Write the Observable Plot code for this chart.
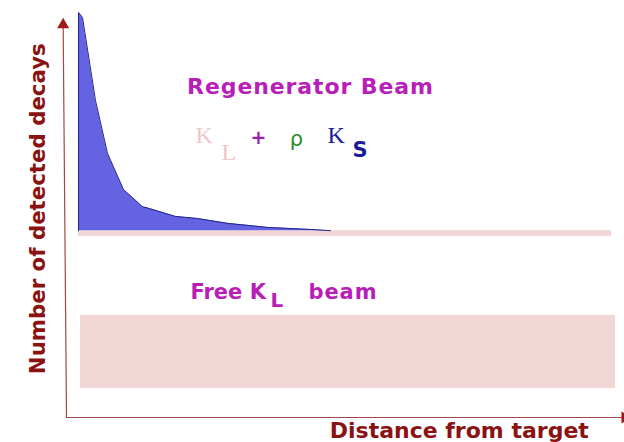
<!DOCTYPE html>
<html><head><meta charset="utf-8">
<script src="https://cdn.jsdelivr.net/npm/d3@7"></script>
<script src="https://cdn.jsdelivr.net/npm/@observablehq/plot@0.6"></script>
<style>body{margin:0;background:#fff}</style>
</head><body><div id="chart"></div>
<script>
// Regenerator beam: detected K_S decays vs distance (arbitrary units)
const distance = [2.17, 2.89, 5.23, 7.40, 10.29, 13.72, 14.8, 19.68, 23.6, 29.06, 36.3, 44.0, 47.65];
const decays   = [99.5, 98.3, 77.9, 64.9, 56.0, 51.8, 51.4, 49.4, 48.9, 47.7, 46.7, 46.2, 45.9];
const regenBaseline = 45.9;
// K_L background bands
const bandX1 = [2.17, 2.53];
const bandX2 = [98.4, 99.1];
const bandY1 = [44.5, 7.1];
const bandY2 = [45.9, 25.1];

const regen = distance.map((d, i) => ({d, n: decays[i]}));
const edge = [{d: distance[0], n: regenBaseline}, ...regen];
const bands = bandX1.map((x1, i) => ({x1, x2: bandX2[i], y1: bandY1[i], y2: bandY2[i]}));
const axisPts = [{d: -0.6, n: 96}, {d: 0, n: 0}, {d: 100.5, n: 0}];
const heads = [{d: -0.6, n: 96.5, r: 0}, {d: 100.8, n: 0, r: 90}];

const dark = "#8b1212", mag = "#b81eb8", F = "DejaVu Sans";
const chart = Plot.plot({
  width: 624, height: 442,
  marginLeft: 66, marginRight: 4, marginTop: 10, marginBottom: 25,
  x: {domain: [0, 100], axis: null},
  y: {domain: [0, 100], axis: null},
  marks: [
    Plot.rect(bands, {x1: "x1", x2: "x2", y1: "y1", y2: "y2", fill: "#f2d5d5"}),
    Plot.areaY(regen, {x: "d", y1: regenBaseline, y2: "n", fill: "#6464e2"}),
    Plot.line(edge, {x: "d", y: "n", stroke: "#22228a", strokeWidth: 1}),
    Plot.line(axisPts, {x: "d", y: "n", stroke: "#a04848", strokeWidth: 1.2}),
    Plot.dot(heads, {x: "d", y: "n", rotate: "r", symbol: "triangle", r: 3.5, fill: "#a01818", stroke: "#a01818"}),
    Plot.text(["Number of detected decays"], {x: -5.05, y: 51.3, rotate: -90, fill: dark, fontSize: 21.3, fontWeight: "bold", fontFamily: F}),
    Plot.text(["Distance from target"], {x: 70.9, y: -3.2, fill: dark, fontSize: 22, fontWeight: "bold", fontFamily: F}),
    Plot.text(["Regenerator Beam"], {x: 44.04, y: 81.3, fill: mag, fontSize: 22, fontWeight: "bold", fontFamily: F, className: "wide"}),
    Plot.text(["Free K"], {x: 22.38, y: 30.7, textAnchor: "start", fill: mag, fontSize: 21, fontWeight: "bold", fontFamily: F}),
    Plot.text(["L"], {x: 36.82, y: 28.75, textAnchor: "start", fill: mag, fontSize: 20, fontWeight: "bold", fontFamily: F}),
    Plot.text(["beam"], {x: 43.68, y: 30.7, textAnchor: "start", fill: mag, fontSize: 21, fontWeight: "bold", fontFamily: F, className: "wide"}),
    Plot.text(["K"], {x: 23.29, y: 69.3, textAnchor: "start", fill: "#f0c6c6", fontSize: 24, fontFamily: "Liberation Serif"}),
    Plot.text(["L"], {x: 27.98, y: 65.1, textAnchor: "start", fill: "#f0c6c6", fontSize: 24, fontFamily: "Liberation Serif"}),
    Plot.text(["+"], {x: 34.66, y: 68.8, fill: "#9a20b0", fontSize: 19, fontWeight: "bold", fontFamily: F}),
    Plot.text(["ρ"], {x: 41.5, y: 68.3, fill: "#2a8a2a", fontSize: 21, fontFamily: F}),
    Plot.text(["K"], {x: 47.11, y: 69.3, textAnchor: "start", fill: "#1a1a9a", fontSize: 24, fontFamily: "Liberation Serif"}),
    Plot.text(["S"], {x: 51.62, y: 65.6, textAnchor: "start", fill: "#1a1a9a", fontSize: 21, fontWeight: "bold", fontFamily: F})
  ]
});
d3.select(chart).selectAll("g.wide text").attr("letter-spacing", "0.9px");
document.getElementById("chart").appendChild(chart);
</script></body></html>
